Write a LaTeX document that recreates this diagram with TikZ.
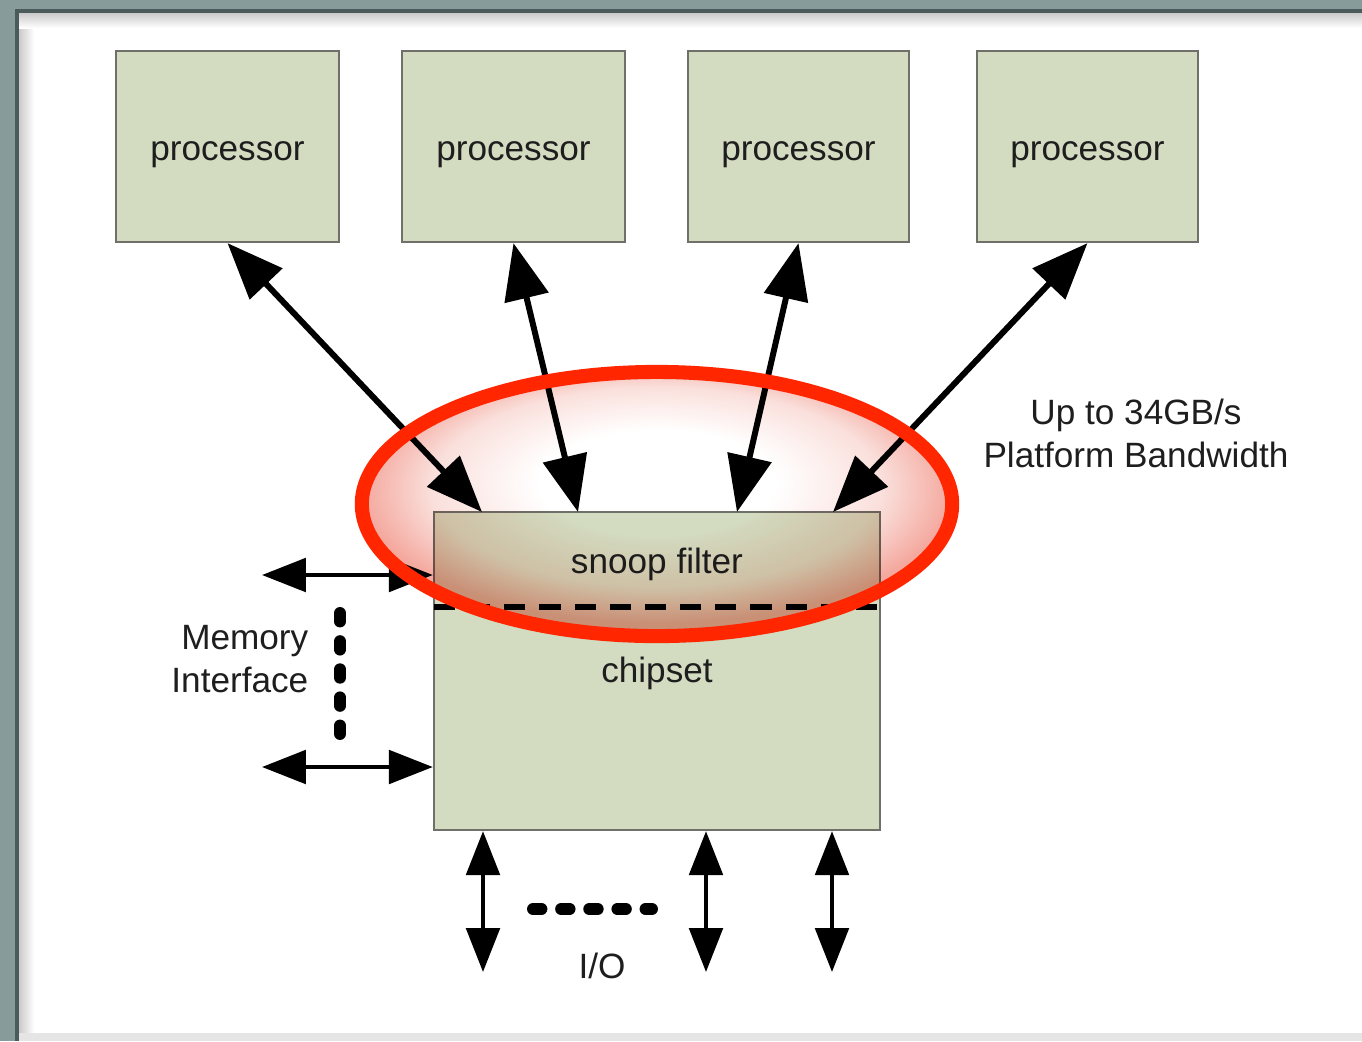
\documentclass[tikz,border=0pt]{standalone}
\usepackage{fontspec}
\setmainfont{Liberation Sans}
\usetikzlibrary{arrows.meta}
\definecolor{framec}{RGB}{135,155,155}
\definecolor{framedark}{RGB}{75,90,90}
\definecolor{boxfill}{RGB}{211,219,192}
\definecolor{boxline}{RGB}{110,112,105}
\definecolor{ringred}{RGB}{255,38,0}
\definecolor{rosy}{RGB}{250,224,220}
\definecolor{rosyedge}{RGB}{244,168,158}
\definecolor{txt}{RGB}{30,30,30}
\pgfdeclareradialshading{ringshade}{\pgfpoint{0bp}{5bp}}{color(0bp)=(white); color(10bp)=(white); color(19bp)=(rosy); color(25bp)=(rosyedge); color(50bp)=(rosyedge)}
\begin{document}
\begin{tikzpicture}[x=0.01cm,y=-0.01cm,
  font=\fontsize{10}{12.2}\selectfont,
  box/.style={draw=boxline,line width=0.6pt,fill=boxfill,inner sep=0pt},
  lbl/.style={text=txt,inner sep=0pt,align=center},
  plbl/.style={lbl,yshift=-2.2pt},
  bigarrow/.style={line width=1.7pt,{Triangle[length=16pt,width=12.5pt]}-{Triangle[length=16pt,width=12.5pt]}},
  smallarrow/.style={line width=1.2pt,{Triangle[length=12.5pt,width=9.5pt]}-{Triangle[length=12.5pt,width=9.5pt]}},
  dotline/.style={line width=3.4pt,line cap=round,dash pattern=on 2.4pt off 5.6pt}]
\useasboundingbox (0,0) rectangle (1362,1041);
% frame
\fill[framec] (0,0) rectangle (1362,1041);
\fill[white] (18,12) rectangle (1362,1033);
\shade[left color=black!22,right color=white] (18,12) rectangle (34,1033);
\shade[top color=black!22,bottom color=white] (18,12) rectangle (1362,28);
\fill[black!10] (18,1033) rectangle (1362,1041);
\fill[framedark] (15,9) rectangle (19,1041);
\fill[framedark] (15,9) rectangle (1362,13);
% processors
\node[box,minimum width=2.23cm,minimum height=1.91cm,label={[plbl]center:processor}] (p1) at (227.5,146.5) {};
\node[box,minimum width=2.23cm,minimum height=1.91cm,label={[plbl]center:processor}] (p2) at (513.5,146.5) {};
\node[box,minimum width=2.21cm,minimum height=1.91cm,label={[plbl]center:processor}] (p3) at (798.5,146.5) {};
\node[box,minimum width=2.21cm,minimum height=1.91cm,label={[plbl]center:processor}] (p4) at (1087.5,146.5) {};
% chipset
\node[box,minimum width=4.46cm,minimum height=3.18cm] (c) at (657,671) {};
\node[lbl] (chip) at (657,673) {chipset};
% targets on chipset top
\coordinate (t1) at (482,512);
\coordinate (t2) at (578,512);
\coordinate (t3) at (737,512);
\coordinate (t4) at (833,512);
\draw[bigarrow] (p1.south) -- (t1);
\draw[bigarrow] (p2.south) -- (t2);
\draw[bigarrow] (p3.south) -- (t3);
\draw[bigarrow] (p4.south) -- (t4);
% divider
\coordinate (dl) at (434,607);
\coordinate (dr) at (880,607);
\draw[line width=1.5pt,dash pattern=on 6pt off 4pt,black] (dl) -- (dr);
% memory
\coordinate (m1) at (262,575);
\coordinate (m2) at (262,767);
\draw[smallarrow] (m1) -- (c.west |- m1);
\draw[smallarrow] (m2) -- (c.west |- m2);
\coordinate (d1) at (340,613);
\coordinate (d2) at (340,735);
\draw[dotline] (d1) -- (d2);
\node[lbl,align=right,anchor=east] (mem) at (309,659) {Memory\\Interface};
% I/O
\coordinate (io1) at (483,972);
\coordinate (io2) at (706,972);
\coordinate (io3) at (832,972);
\draw[smallarrow] (io1 |- c.south) -- (io1);
\draw[smallarrow] (io2 |- c.south) -- (io2);
\draw[smallarrow] (io3 |- c.south) -- (io3);
\coordinate (h1) at (533,909);
\coordinate (h2) at (652,909);
\draw[dotline] (h1) -- (h2);
\node[lbl] (io) at (602,966) {I/O};
% bandwidth
\node[lbl] (bw) at (1136,433) {Up to 34GB/s\\Platform Bandwidth};
% snoop filter label
\node[lbl] (snoop) at (657,564) {snoop filter};
% highlight ellipse
\begin{scope}[blend mode=multiply]
\shade[shading=ringshade] (657,504) ellipse [x radius=2.95cm,y radius=1.32cm];
\end{scope}
\draw[ringred,line width=4pt] (657,504) ellipse [x radius=2.95cm,y radius=1.32cm];
\end{tikzpicture}
\end{document}
